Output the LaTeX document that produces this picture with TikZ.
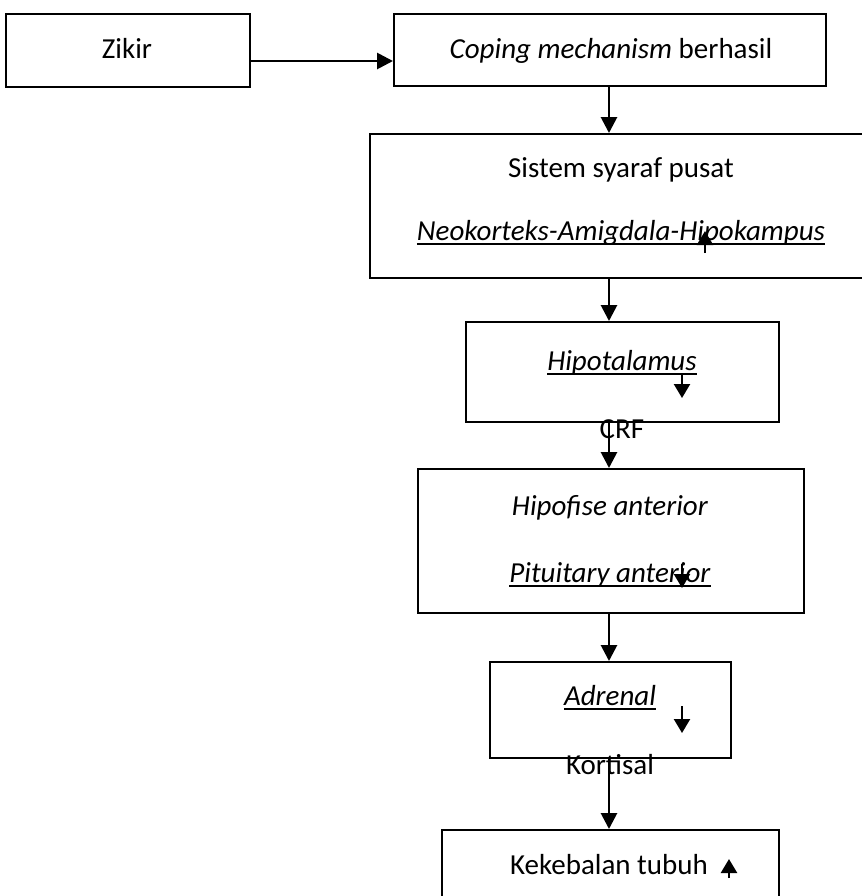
\documentclass[tikz,border=0pt]{standalone}
\usepackage{fontspec}
\setmainfont{Carlito}
\usepackage{tikz}
\usetikzlibrary{arrows.meta, positioning}

\newcommand\garis[1]{\setbox0\hbox{#1}\rlap{\rule[-2.6pt]{\wd0}{0.9pt}}\box0}

\begin{document}
\begin{tikzpicture}[x=0.5pt, y=-0.5pt, >={Triangle[length=8pt, width=8pt]},
    kotak/.style={draw, line width=1pt, inner sep=0pt, anchor=north west},
    teks/.style={anchor=base, inner sep=0pt, font=\fontsize{14.5}{17}\selectfont},
    panah/.style={->, line width=1.4pt},
    kecil/.style={-{Triangle[length=7pt, width=8pt]}, line width=1.2pt}]
  \useasboundingbox (0,0) rectangle (862,896);

  \node[kotak, minimum width=122pt, minimum height=36.5pt] (zikir) at (5,13) {};
  \node[kotak, minimum width=216pt, minimum height=36pt] (coping) at (393,13) {};
  \node[kotak, minimum width=252pt, minimum height=72pt] (sistem) at (369,133) {};
  \node[kotak, minimum width=156.5pt, minimum height=50pt] (hipot) at (465,321) {};
  \node[kotak, minimum width=193pt, minimum height=72pt] (hipof) at (417,468) {};
  \node[kotak, minimum width=120.5pt, minimum height=48pt] (adrenal) at (489,661) {};
  \node[kotak, minimum width=168.5pt, minimum height=45pt] (kebal) at (441,829) {};

  \node[teks] (tzikir) at (127,58) {Zikir};
  \node[teks] (tcoping) at (611,58) {\textit{Coping mechanism} berhasil};
  \node[teks] (tsistem) at (621,177) {Sistem syaraf pusat};
  \node[teks] (tneo) at (621,240) {\garis{\textit{Neokorteks-Amigdala-Hipokampus}}};
  \node[teks] (thipot) at (622,370) {\garis{\textit{Hipotalamus}}};
  \node[teks] (tcrf) at (622,438) {CRF};
  \node[teks] (thipof) at (610,515) {\textit{Hipofise anterior}};
  \node[teks] (tpit) at (610,582) {\garis{\textit{Pituitary anterior}}};
  \node[teks] (tadr) at (610,705) {\garis{\textit{Adrenal}}};
  \node[teks] (tkort) at (610,774) {Kortisal};
  \node[teks] (tkebal) at (609,874) {Kekebalan tubuh};

  \coordinate (lajur) at (0,61);
  \coordinate (jalur) at (609,0);
  \draw[panah] (zikir.east |- lajur) -- (coping.west |- lajur);
  \foreach \a/\b in {coping/sistem, sistem/hipot, hipot/hipof, hipof/adrenal, adrenal/kebal}
    \draw[panah] (\a.south -| jalur) -- (\b.north -| jalur);

  \foreach \x/\a/\b in {705/253/231, 682/374/398, 682/564/588, 682/706/733, 729/878/859}
    \draw[kecil] (\x,\a) -- (\x,\b);
\end{tikzpicture}
\end{document}
